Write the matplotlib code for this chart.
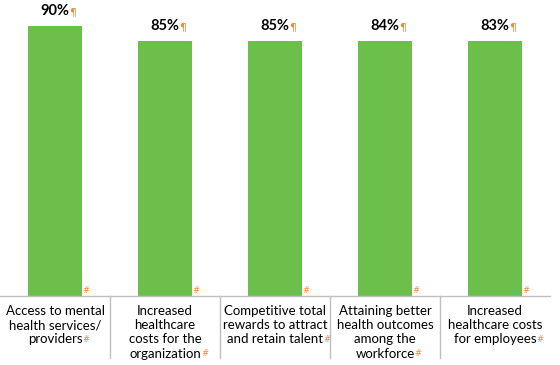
import matplotlib.pyplot as plt
import matplotlib.transforms as mtransforms

categories = [
    ["Access to mental", "health services/", "providers"],
    ["Increased", "healthcare", "costs for the", "organization"],
    ["Competitive total", "rewards to attract", "and retain talent"],
    ["Attaining better", "health outcomes", "among the", "workforce"],
    ["Increased", "healthcare costs", "for employees"],
]
# bar heights as drawn in the picture (last two bars are drawn at 85)
heights = [90, 85, 85, 85, 85]
labels = ["90%", "85%", "85%", "84%", "83%"]

green = '#6dbf4b'
orange = '#f08a3a'
grey = '#bfbfbf'

fig = plt.figure(figsize=(5.6, 3.65), dpi=100)
ax = fig.add_axes([0, 69 / 365, 550 / 560, 296 / 365])

x = range(len(heights))
ax.bar(x, heights, width=0.49, color=green)
ax.set_xlim(-0.5, len(heights) - 0.5)
ax.set_ylim(0, 296 / 3)

for s in ['top', 'left', 'right']:
    ax.spines[s].set_visible(False)
ax.spines['bottom'].set_color(grey)
ax.spines['bottom'].set_linewidth(1)
ax.set_xticks([])
ax.set_yticks([])

trans = mtransforms.blended_transform_factory(ax.transData, ax.transAxes)

# separators under the axis between the category labels
for i in range(len(heights) - 1):
    ax.plot([i + 0.5, i + 0.5], [0, -62 / 296], color=grey, lw=1,
            transform=trans, clip_on=False)

for i, h in enumerate(heights):
    t = ax.annotate(labels[i], xy=(i, h), xytext=(0, 8), textcoords='offset pixels',
                    ha='center', va='bottom', fontsize=10.5, fontweight='bold',
                    family='Lato', color='black')
    ax.annotate("¶", xy=(1, 0.05), xycoords=t, ha='left', va='bottom',
                fontsize=8, color=orange, family='DejaVu Sans')
    # end-of-cell mark at bottom right of the bar
    ax.annotate("#", xy=(i + 0.245, 0), xytext=(0, 1), textcoords='offset pixels',
                ha='left', va='bottom', fontsize=6, color=orange, family='DejaVu Sans')

    lines = categories[i]
    last = None
    for j, line in enumerate(lines):
        last = ax.annotate(line, xy=(i, 0), xycoords=trans,
                           xytext=(0, -(9 + j * 14.2)), textcoords='offset pixels',
                           ha='center', va='top', fontsize=9.5, family='Lato',
                           color='black')
    ax.annotate("#", xy=(1, 0.12), xycoords=last, ha='left', va='bottom',
                fontsize=6, color=orange, family='DejaVu Sans')

plt.savefig('out.png', dpi=100)
